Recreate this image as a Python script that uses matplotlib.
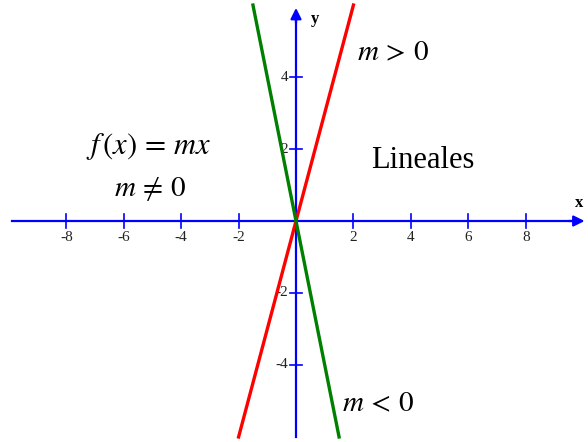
import matplotlib
matplotlib.use('Agg')
import matplotlib.pyplot as plt
import numpy as np

# ------------------------------------------------------------------ DATA
slopes = [3, -4]                  # m > 0 (red), m < 0 (green)
line_colors = ['#ff0000', '#008000']
y_span = [-6, 6]
x_ticks = [-8, -6, -4, -2, 2, 4, 6, 8]
y_ticks = [-4, -2, 2, 4]

plt.rcParams['mathtext.fontset'] = 'stix'
plt.rcParams['font.family'] = 'Liberation Serif'

fig = plt.figure(figsize=(5.88, 4.42), dpi=100)
ax = fig.add_axes([0, 0, 1, 1])
ax.set_xlim(-10.31, 10.17)
ax.set_ylim(-6.14, 6.14)
ax.axis('off')

blue = '#0000ff'
# axes with arrows
ax.plot([-9.9, 9.7], [0, 0], color=blue, lw=1.6, zorder=1)
ax.annotate('', xy=(10.05, 0), xytext=(9.5, 0),
            arrowprops=dict(arrowstyle='-|>', color=blue, lw=1.6,
                            mutation_scale=16, shrinkA=0, shrinkB=0))
ax.plot([0, 0], [-6.0, 5.7], color=blue, lw=1.6, zorder=1)
ax.annotate('', xy=(0, 5.92), xytext=(0, 5.5),
            arrowprops=dict(arrowstyle='-|>', color=blue, lw=1.6,
                            mutation_scale=16, shrinkA=0, shrinkB=0))

# ticks
for t in x_ticks:
    ax.plot([t, t], [-0.2, 0.2], color=blue, lw=1.2, zorder=1)
    ax.text(t, -0.45, str(t), ha='center', va='center', fontsize=11,
            color='#222222')
for t in y_ticks:
    ax.plot([-0.22, 0.22], [t, t], color=blue, lw=1.2, zorder=1)
    ax.text(-0.28, t, str(t), ha='right', va='center', fontsize=11,
            color='#222222')

ax.text(9.85, 0.5, 'x', fontsize=12, fontweight='bold', ha='center', va='center')
ax.text(0.65, 5.6, 'y', fontsize=12, fontweight='bold', ha='center', va='center')

# lines y = m x, clipped to y range
for m, c in zip(slopes, line_colors):
    ys = np.array(y_span, dtype=float)
    xs = ys / m
    ax.plot(xs, ys, color=c, lw=2.4, zorder=3)

# labels
fig.text(149/588, 1-147/442, r'$f\,\left(x\right)\,=\,mx$', fontsize=22,
         ha='center', va='center')
fig.text(150/588, 1-189/442, r'$m\,\neq\,0$', fontsize=21,
         ha='center', va='center')
fig.text(393/588, 1-53/442, r'$m\,>\,0$', fontsize=21,
         ha='center', va='center')
fig.text(378/588, 1-404/442, r'$m\,<\,0$', fontsize=21,
         ha='center', va='center')
fig.text(423/588, 1-160/442, 'Lineales', fontsize=22,
         ha='center', va='center')

fig.savefig('out.png', dpi=100)
